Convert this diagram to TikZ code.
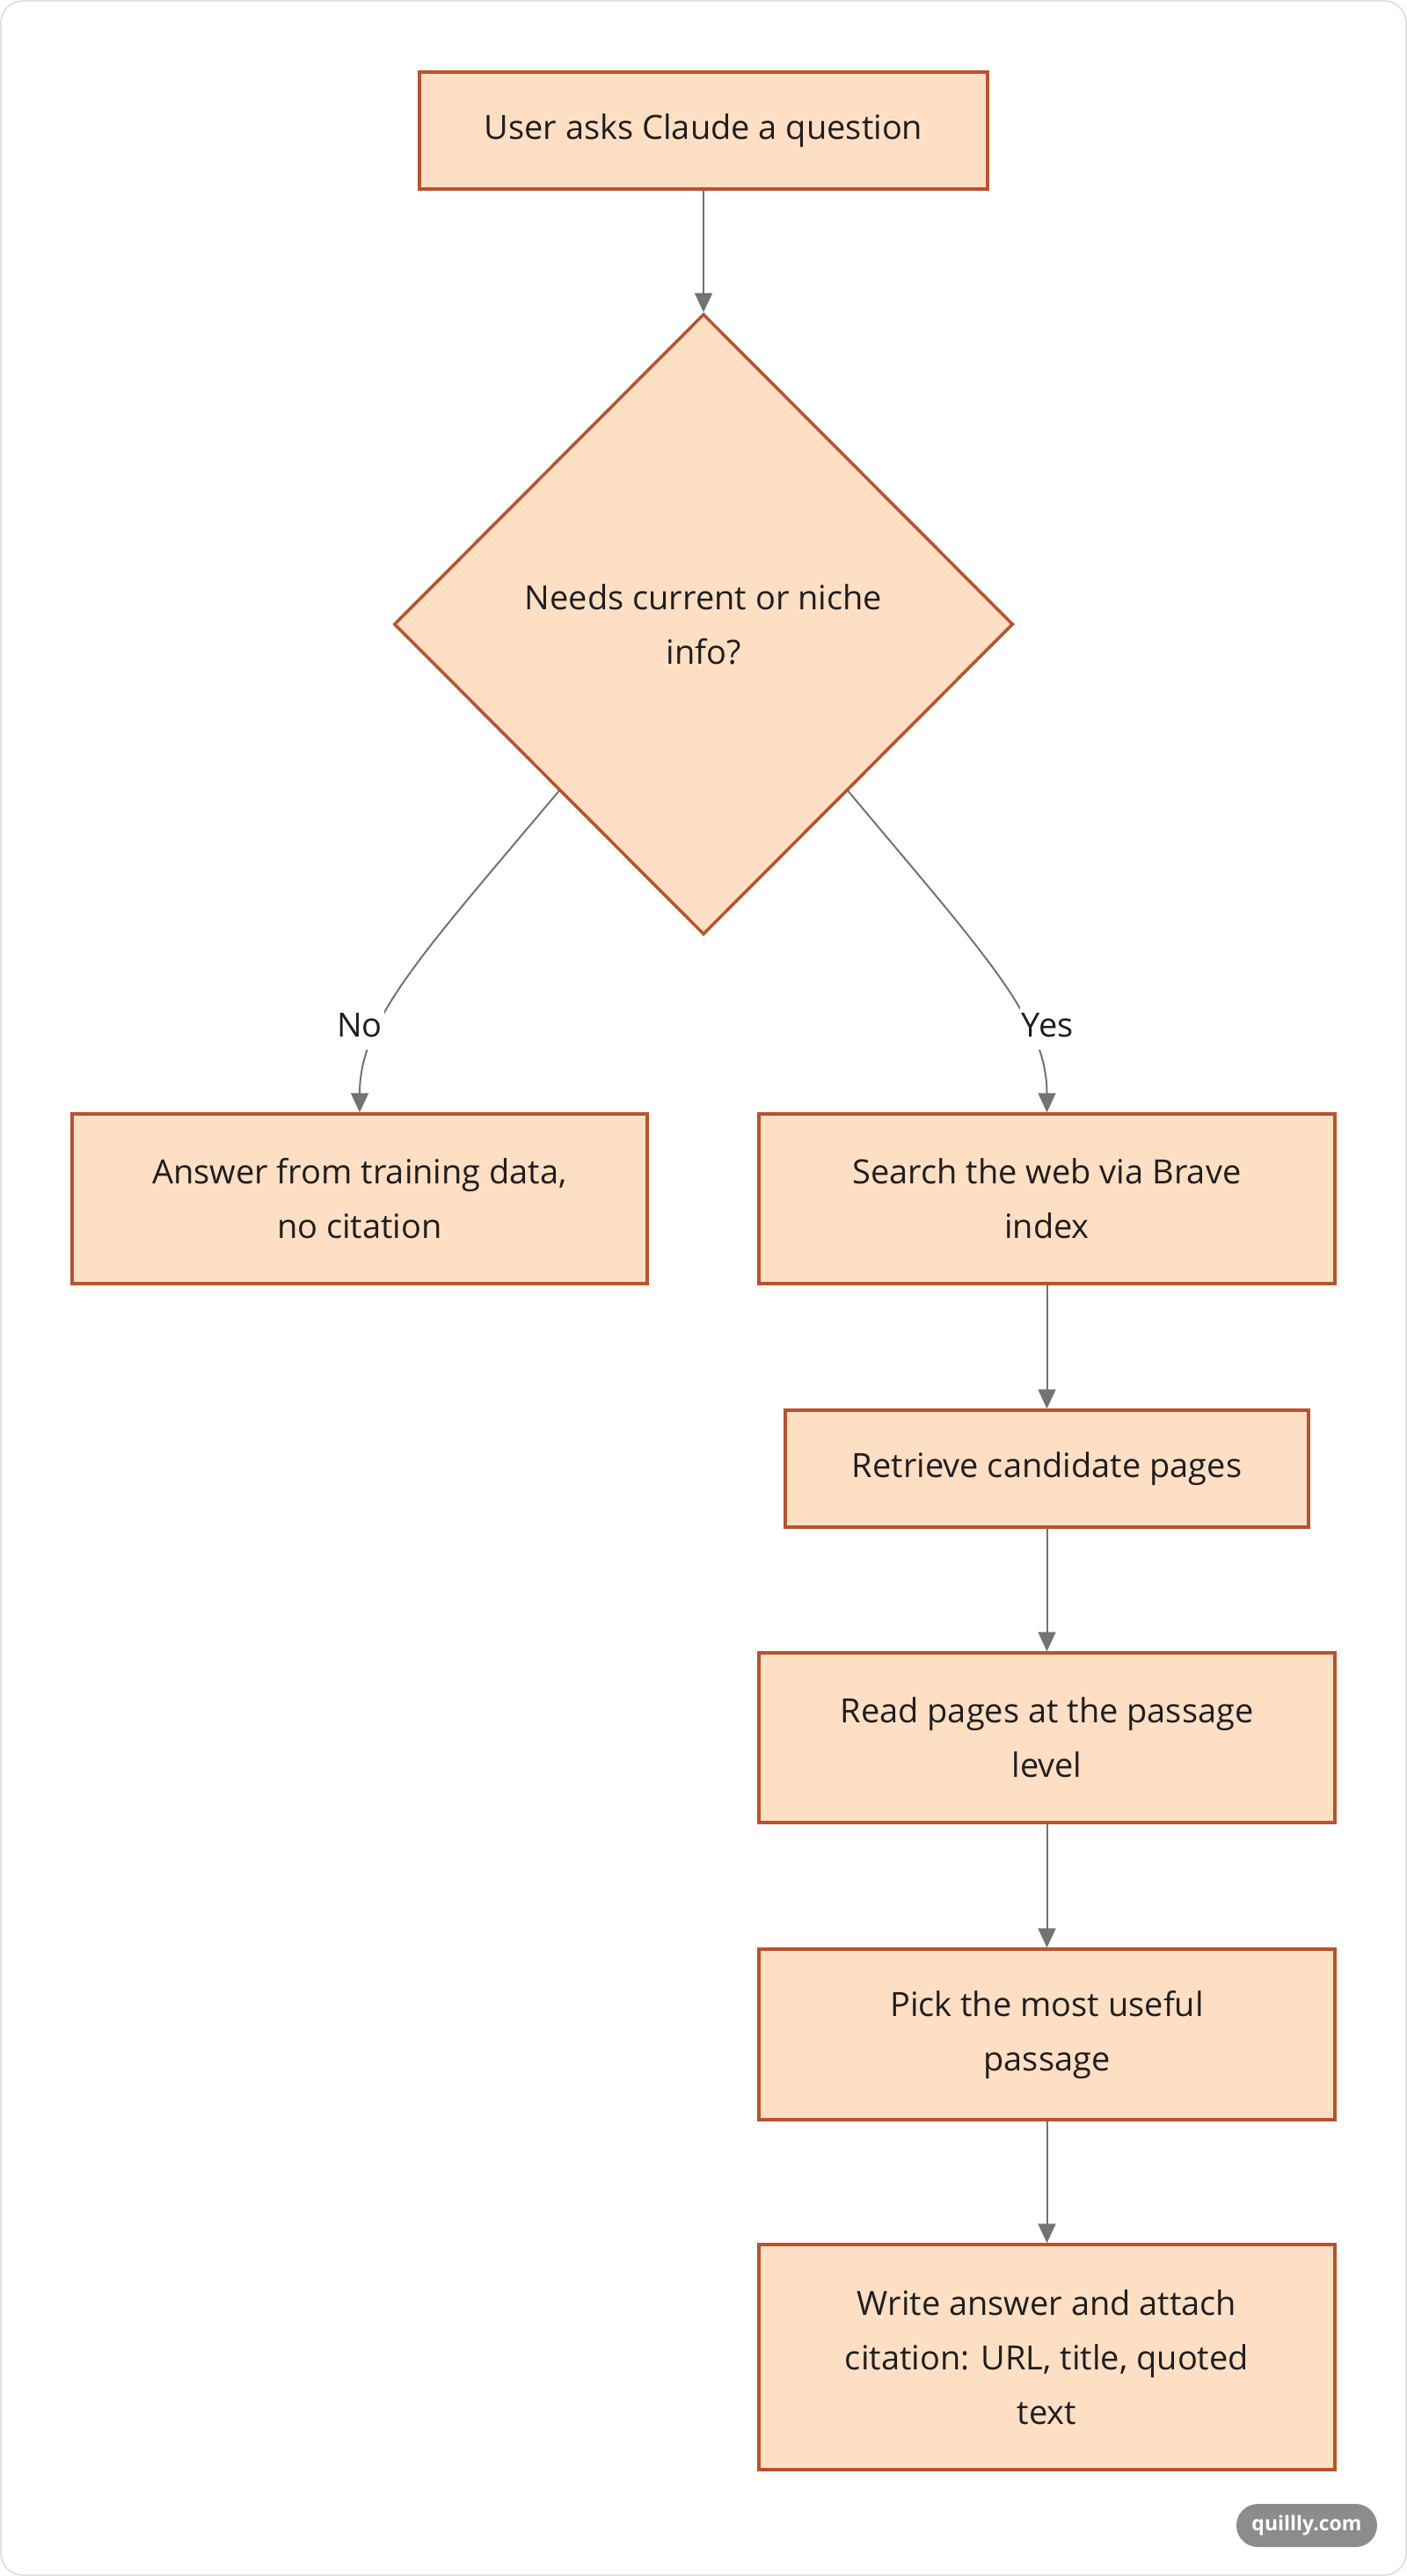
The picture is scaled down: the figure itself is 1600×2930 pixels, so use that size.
\documentclass[tikz,border=0pt]{standalone}
\usepackage{fontspec}
\setmainfont{Open Sans}
\usetikzlibrary{shapes.geometric,arrows.meta,calc}
\definecolor{boxfill}{RGB}{255,223,196}
\definecolor{boxline}{RGB}{185,82,45}
\definecolor{arrowc}{RGB}{115,115,115}
\definecolor{txt}{RGB}{30,30,30}
\definecolor{framec}{RGB}{226,226,226}
\definecolor{badgec}{RGB}{140,140,140}
\begin{document}
\begin{tikzpicture}[x=1pt,y=-1pt,
  every node/.style={font=\fontsize{38}{62}\selectfont, text=txt},
  box/.style={draw=boxline, fill=boxfill, line width=3.5pt, rectangle, align=center, inner sep=0pt},
  dec/.style={draw=boxline, fill=boxfill, line width=3.5pt, diamond, align=center, inner sep=0pt, minimum width=704pt, minimum height=706pt},
  conn/.style={draw=arrowc, line width=2pt, -{Triangle[length=22pt,width=20pt]}},
  lbl/.style={fill=white, inner sep=2pt, minimum height=56pt}
]
\fill[white] (0,0) rectangle (1600,2930);
\useasboundingbox (0,0) rectangle (1600,2930);
\draw[framec, line width=2pt, rounded corners=25pt] (1,1) rectangle (1599,2929);

\node[box, minimum width=646pt, minimum height=133pt] (q) at (800,148.5) {\raisebox{-4pt}{User asks Claude a question}};
\node[dec] (d) at (800,710) {Needs current or niche\\info?};
\node[box, minimum width=654pt, minimum height=193pt] (lt) at (409,1363.5) {Answer from training data,\\no citation};
\node[box, minimum width=655pt, minimum height=193pt] (s) at (1190.5,1363.5) {Search the web via Brave\\index};
\node[box, minimum width=595pt, minimum height=133pt] (r) at (1190.5,1670.5) {\raisebox{-4pt}{Retrieve candidate pages}};
\node[box, minimum width=655pt, minimum height=193pt] (p) at (1190.5,1976.5) {Read pages at the passage\\level};
\node[box, minimum width=655pt, minimum height=194pt] (k) at (1190.5,2314) {Pick the most useful\\passage};
\node[box, minimum width=655pt, minimum height=256pt] (w) at (1190.5,2681) {Write answer and attach\\citation: URL, title, quoted\\text};

\draw[conn] (q.south) -- (d.north);
\draw[conn] ($(d.west)!0.535!(d.south)$) .. controls (480,1085) and (409,1160) .. (lt.north);
\draw[conn] ($(d.south)!0.465!(d.east)$) .. controls (1121,1087) and (1190.5,1160) .. (s.north);
\node[lbl] (nol) at (409,1166) {No};
\node[lbl] (yesl) at (1191,1166) {Yes};
\draw[conn] (s.south) -- (r.north);
\draw[conn] (r.south) -- (p.north);
\draw[conn] (p.south) -- (k.north);
\draw[conn] (k.south) -- (w.north);

\node[fill=badgec, text=white, rounded corners=24.5pt, minimum width=160pt, minimum height=49pt, inner sep=0pt, font=\fontsize{23}{26}\selectfont\bfseries] (badge) at (1486,2872.5) {quillly.com};
\end{tikzpicture}
\end{document}
